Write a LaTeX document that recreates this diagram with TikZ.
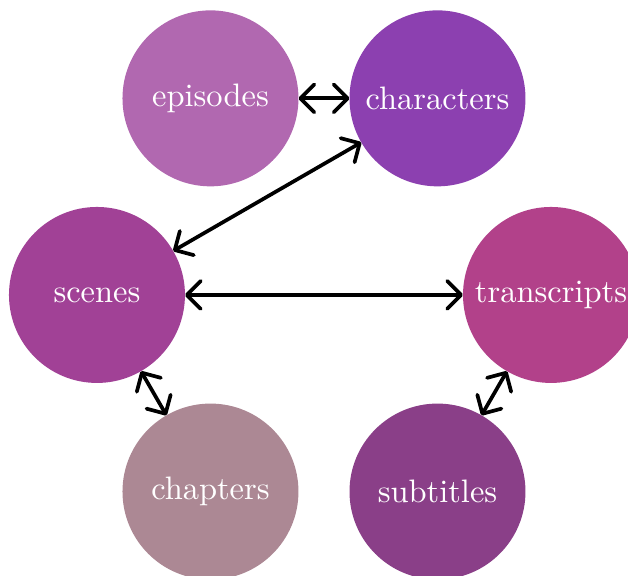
\documentclass[tikz,border=0pt]{standalone}
\usetikzlibrary{arrows.meta}

\definecolor{episodecol}{RGB}{177,104,176}
\definecolor{charactercol}{RGB}{140,64,176}
\definecolor{scenecol}{RGB}{161,65,150}
\definecolor{transcriptcol}{RGB}{178,65,138}
\definecolor{chaptercol}{RGB}{172,136,148}
\definecolor{subtitlecol}{RGB}{138,63,136}

\begin{document}
\begin{tikzpicture}[>={Straight Barb[length=4.5pt,width=9pt,round]}, scale=1.0,
    tbl/.style={circle, minimum size=2cm, inner sep=0pt, outer sep=0pt, text=white,
        font=\fontsize{10.5}{12}\selectfont},
    link/.style={<->, very thick, line cap=round}]
        % page size
        \useasboundingbox (-3.682,-3.193) rectangle (3.455,3.352);

        % Six tables placed round a circle
        \node[tbl, fill=episodecol] (episodes) at (120:2.58) {episodes};
        \node[tbl, fill=charactercol] (characters) at (60:2.58) {characters};
        \node[tbl, fill=scenecol] (scenes) at (180:2.58) {scenes};
        \node[tbl, fill=transcriptcol] (transcripts) at (0:2.58) {transcripts};
        \node[tbl, fill=chaptercol] (chapters) at (240:2.58) {chapters};
        \node[tbl, fill=subtitlecol] (subtitles) at (300:2.58) {subtitles};

        % Links between them (both ways)
        \draw[link] (episodes) -- (characters);
        \draw[link] (characters) -- (scenes);
        \draw[link] (scenes) -- (transcripts);
        \draw[link] (scenes) -- (chapters);
        \draw[link] (transcripts) -- (subtitles);
    \end{tikzpicture}
\end{document}
